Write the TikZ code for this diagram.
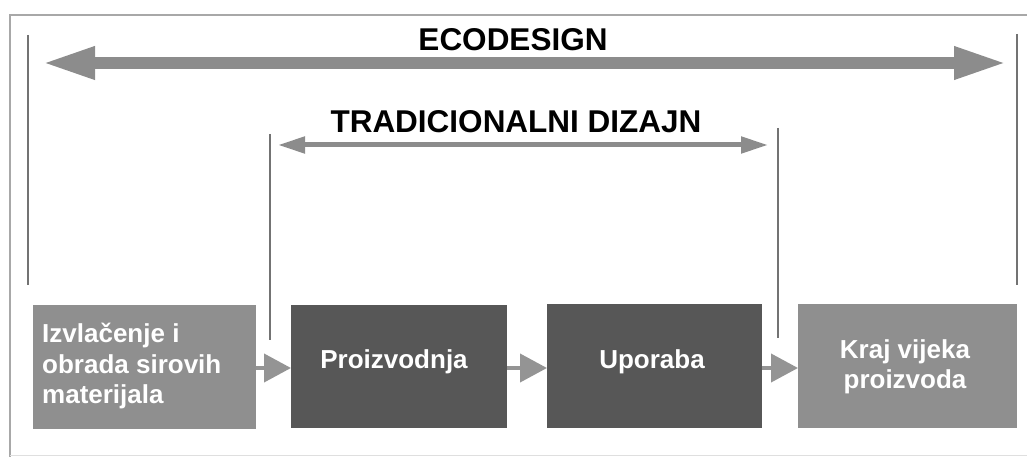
\documentclass[tikz,border=0pt]{standalone}
\usepackage{fontspec}
\setmainfont{Liberation Sans}
\usetikzlibrary{arrows.meta}
\definecolor{framegray}{gray}{0.66}
\definecolor{arrowgray}{gray}{0.55}
\definecolor{linegray}{gray}{0.45}
\definecolor{lightbox}{gray}{0.56}
\definecolor{darkbox}{gray}{0.34}
\definecolor{smallarrow}{gray}{0.58}
\tikzset{
  title/.style={font=\fontsize{31.5}{36}\selectfont\bfseries, text=black, inner sep=0pt},
  boxtext/.style={font=\fontsize{26}{30.5}\selectfont\bfseries, text=white, inner sep=0pt},
  stagebox/.style={draw=none, inner sep=0pt},
  marker/.style={draw=linegray, line width=1.6pt},
  bigarrow/.style={draw=arrowgray, line width=12pt, {Triangle[length=53pt,width=30pt]}-{Triangle[length=53pt,width=30pt]}},
  midarrow/.style={draw=arrowgray, line width=5pt, {Triangle[length=27pt,width=16pt]}-{Triangle[length=27pt,width=16pt]}},
  flow/.style={draw=smallarrow, line width=4pt, -{Triangle[length=27pt,width=28pt]}, shorten >=0pt},
}
\begin{document}
\begin{tikzpicture}[x=1pt,y=-1pt]
\useasboundingbox (0,0) rectangle (1027,457);
% frame
\draw[framegray, line width=2pt] (1027,15) -- (10,15) -- (10,457);
\draw[gray!25, line width=1pt] (10,455) -- (1027,455);
% boxes
\fill[lightbox] (33,305) rectangle (256,429);
\node[stagebox, minimum width=223pt, minimum height=124pt] (b1) at (144.5,367) {};
\fill[darkbox] (291,305) rectangle (507,428);
\node[stagebox, minimum width=216pt, minimum height=123pt] (b2) at (399,366.5) {};
\fill[darkbox] (547,304) rectangle (762,428);
\node[stagebox, minimum width=215pt, minimum height=124pt] (b3) at (654.5,366) {};
\fill[lightbox] (798,304) rectangle (1017,428);
\node[stagebox, minimum width=219pt, minimum height=124pt] (b4) at (907.5,366) {};
% box texts
\node[boxtext, anchor=west, align=left] (t1) at (42,366) {Izvlačenje i\\obrada sirovih\\materijala};
\node[boxtext] (t2) at (394,362) {Proizvodnja};
\node[boxtext] (t3) at (652,362) {Uporaba};
\node[boxtext, align=center] (t4) at (905,367) {Kraj vijeka\\proizvoda};
% flow arrows
\coordinate (f1) at (256,368);
\coordinate (f1e) at (291,368);
\coordinate (f2) at (507,368);
\coordinate (f2e) at (547,368);
\coordinate (f3) at (762,368);
\coordinate (f3e) at (798,368);
\draw[flow] (f1) -- (f1e);
\draw[flow] (f2) -- (f2e);
\draw[flow] (f3) -- (f3e);
% ecodesign markers
\coordinate (e1t) at (28,35);
\coordinate (e1b) at (28,285);
\coordinate (e2t) at (1017,34);
\coordinate (e2b) at (1017,285);
\draw[marker] (e1t) -- (e1b);
\draw[marker] (e2t) -- (e2b);
% traditional markers
\coordinate (d1t) at (270,134);
\coordinate (d1b) at (270,340);
\coordinate (d2t) at (778,128);
\coordinate (d2b) at (778,338);
\draw[marker] (d1t) -- (d1b);
\draw[marker] (d2t) -- (d2b);
% arrows
\coordinate (a1) at (42,63);
\coordinate (a2) at (1007,63);
\draw[bigarrow] (a1) -- (a2);
\coordinate (m1) at (278,145);
\coordinate (m2) at (768,145);
\draw[midarrow] (m1) -- (m2);
% titles
\node[title] (eco) at (513,40) {ECODESIGN};
\node[title] (trad) at (516,122) {TRADICIONALNI DIZAJN};
\end{tikzpicture}
\end{document}
